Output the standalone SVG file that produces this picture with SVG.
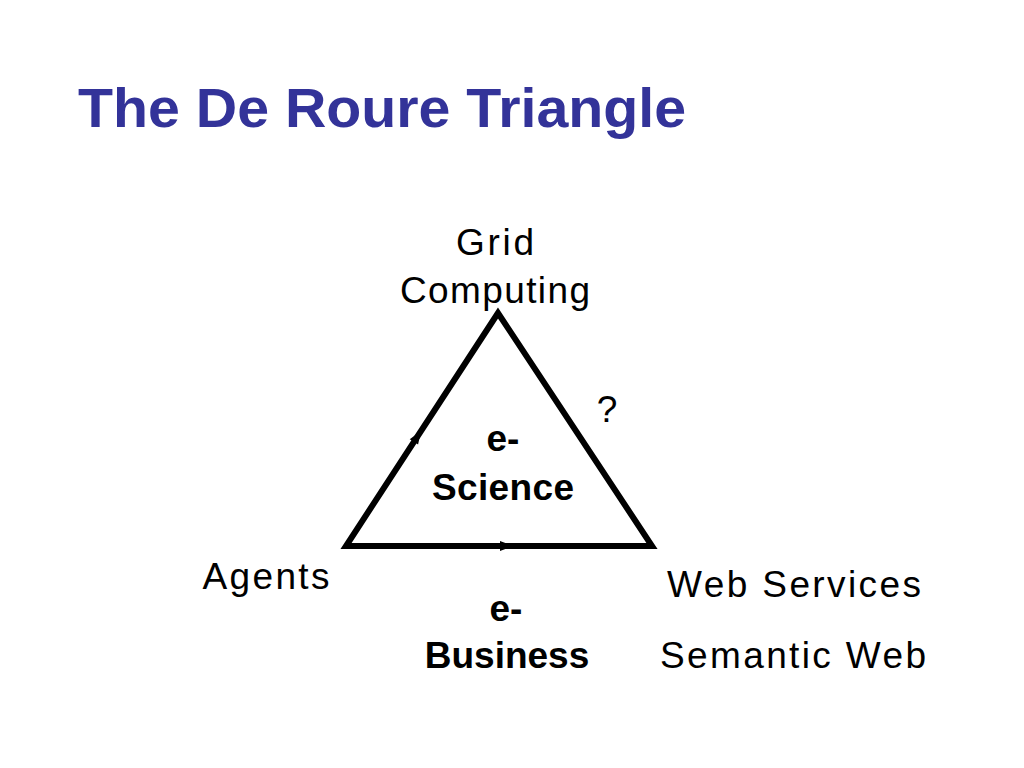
<svg xmlns="http://www.w3.org/2000/svg" width="1024" height="768" viewBox="0 0 1024 768">
<style>
.t{font-family:"Liberation Sans",Arial,sans-serif;font-size:37px;fill:#000}
.b{font-weight:bold}
.title{font-family:"Liberation Sans",Arial,sans-serif;font-size:56px;font-weight:bold;fill:#333399}
.edge{fill:none;stroke:#000;stroke-width:6;stroke-linejoin:miter}
.ah{fill:#000}
</style>
<rect width="1024" height="768" fill="#fff"/>
<text class="title" x="78" y="127" textLength="608" lengthAdjust="spacingAndGlyphs">The De Roure Triangle</text>
<g id="connectors">
<polygon class="edge" points="498,313 346,546 652,546"/>
<polygon class="ah" points="0,-5 13,0 0,5" transform="translate(421,431) rotate(-56.9) translate(-13,0)"/>
<polygon class="ah" points="0,-5 13,0 0,5" transform="translate(513,546) translate(-13,0)"/>
</g>
<g id="grid"><text class="t" x="495" y="255" text-anchor="middle" textLength="78">Grid</text><text class="t" x="495" y="303" text-anchor="middle" textLength="190">Computing</text></g>
<g id="agents"><text class="t" x="266" y="589" text-anchor="middle" textLength="127">Agents</text></g>
<g id="webservices"><text class="t" x="794" y="597" text-anchor="middle" textLength="254">Web Services</text><text class="t" x="793" y="668" text-anchor="middle" textLength="266">Semantic Web</text></g>
<g id="question"><text class="t" x="607" y="422" text-anchor="middle">?</text></g>
<g id="escience"><text class="t b" x="503" y="451" text-anchor="middle">e-</text><text class="t b" x="503" y="500" text-anchor="middle" textLength="142">Science</text></g>
<g id="ebusiness"><text class="t b" x="506" y="621" text-anchor="middle">e-</text><text class="t b" x="507" y="668" text-anchor="middle">Business</text></g>
</svg>
